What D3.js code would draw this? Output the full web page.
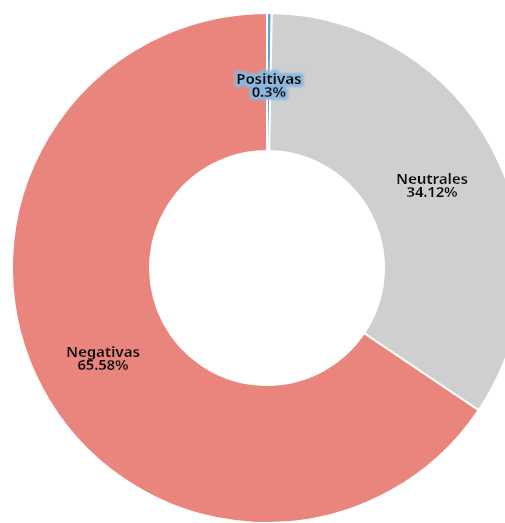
<!DOCTYPE html>
<html>
<head>
<meta charset="utf-8">
<style>
    body{ margin:0; background:#fff; }
    svg{ display:block; }
    .lbl{
        font-family: "Noto Sans", sans-serif;
        font-weight: bold;
        font-size: 15px;
        letter-spacing: -0.2px;
        fill: #111;
    }
</style>
<script src="https://cdn.jsdelivr.net/npm/d3@7"></script>
</head>
<body>
<svg id="chart" width="505" height="523"></svg>
<script>
    // datos
    let categories = ["Positivas", "Neutrales", "Negativas"]
    let values = [0.3, 34.12, 65.58]
    let colors = ["#6a9fd4", "#cfcfcf", "#e9857d"]
    let halos = ["#8db6db", "#cfcfcf", "#e9857d"]

    let cx = 267, cy = 268
    let outerR = 255, innerR = 117

    let data = categories.map((c, i) => ({ name: c, value: values[i], i: i }))

    let svg = d3.select("#chart")

    // halo detras del texto (filtro, para no tapar las letras de la otra linea)
    let defs = svg.append("defs")
    halos.forEach(function(h, i){
        let f = defs.append("filter").attr("id", "halo" + i)
            .attr("x", "-20%").attr("y", "-40%").attr("width", "140%").attr("height", "180%")
        f.append("feMorphology").attr("in", "SourceAlpha").attr("operator", "dilate").attr("radius", 2.5).attr("result", "d")
        f.append("feGaussianBlur").attr("in", "d").attr("stdDeviation", 0.8).attr("result", "b")
        f.append("feFlood").attr("flood-color", h).attr("result", "c")
        f.append("feComposite").attr("in", "c").attr("in2", "b").attr("operator", "in").attr("result", "h")
        let m = f.append("feMerge")
        m.append("feMergeNode").attr("in", "h")
        m.append("feMergeNode").attr("in", "SourceGraphic")
    })

    let g = svg.append("g").attr("transform", "translate(" + cx + "," + cy + ")")

    let pie = d3.pie().value(d => d.value).sort(null)
    let arc = d3.arc().innerRadius(innerR).outerRadius(outerR)
    let labelArc = d3.arc().innerRadius((innerR + outerR) / 2).outerRadius((innerR + outerR) / 2)

    let arcs = pie(data)

    g.selectAll("path.slice")
        .data(arcs)
        .enter().append("path")
        .attr("class", "slice")
        .attr("d", arc)
        .attr("fill", d => colors[d.data.i])
        .attr("stroke", "#fff")
        .attr("stroke-width", 2)

    let labels = g.selectAll("text.lbl")
        .data(arcs)
        .enter().append("text")
        .attr("class", "lbl")
        .attr("text-anchor", "middle")
        .attr("filter", d => "url(#halo" + d.data.i + ")")
        .attr("transform", d => {
            let c = labelArc.centroid(d)
            return "translate(" + c[0] + "," + c[1] + ")"
        })

    labels.append("tspan")
        .attr("x", 0)
        .attr("y", 2)
        .text(d => d.data.name)
    labels.append("tspan")
        .attr("x", 0)
        .attr("y", 15)
        .text(d => d.data.value + "%")
</script>
</body>
</html>
